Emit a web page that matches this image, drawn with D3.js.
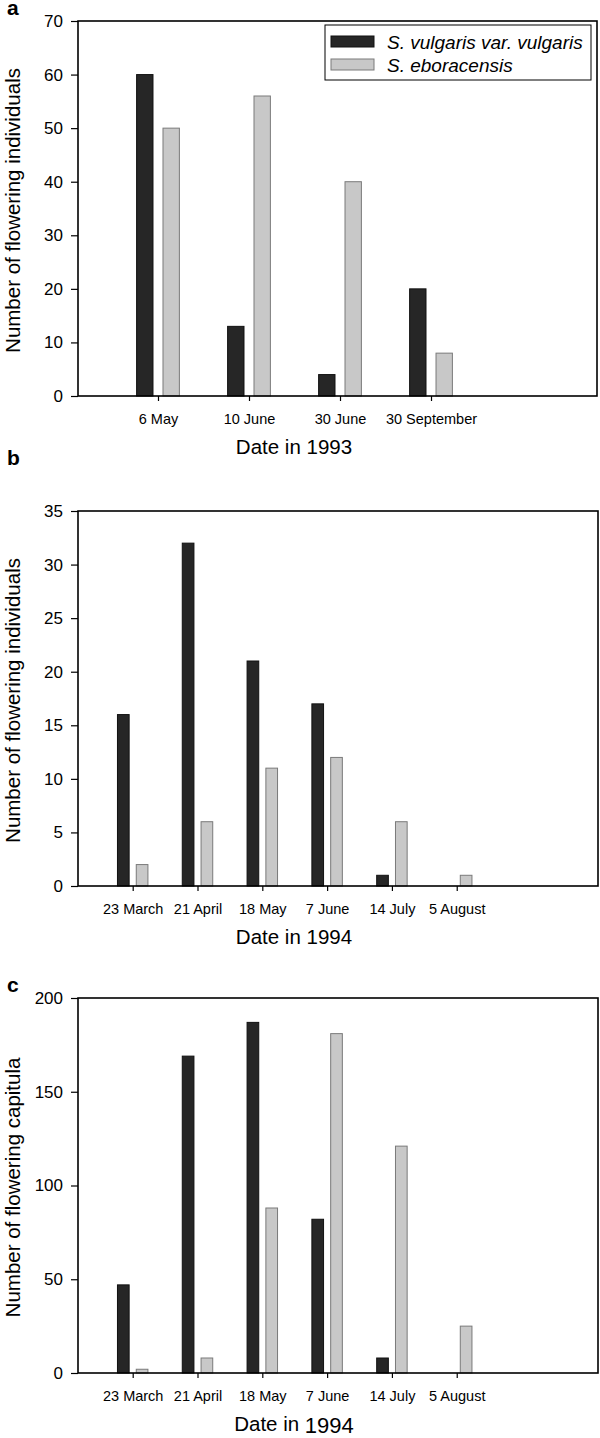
<!DOCTYPE html>
<html><head><meta charset="utf-8">
<script src="https://cdn.jsdelivr.net/npm/d3@7"></script>
<style>body{margin:0;background:#fff}svg{display:block}text{font-family:Arial,"Liberation Sans",sans-serif}</style>
</head><body>
<svg id="chart" width="600" height="1438"></svg>
<script>
const seriesNames = ["S. vulgaris var. vulgaris", "S. eboracensis"];
const datesA = ["6 May", "10 June", "30 June", "30 September"];
const vulgarisA = [60, 13, 4, 20];
const eboracensisA = [50, 56, 40, 8];
const yTicksA = [0, 10, 20, 30, 40, 50, 60, 70];

const datesB = ["23 March", "21 April", "18 May", "7 June", "14 July", "5 August"];
const vulgarisB = [16, 32, 21, 17, 1, 0];
const eboracensisB = [2, 6, 11, 12, 6, 1];
const yTicksB = [0, 5, 10, 15, 20, 25, 30, 35];

const datesC = datesB;
const vulgarisC = [47, 169, 187, 82, 8, 0];
const eboracensisC = [2, 8, 88, 181, 121, 25];
const yTicksC = [0, 50, 100, 150, 200];

const svg = d3.select("#chart");
const colors = ["#262626", "#c8c8c8"];
const strokes = ["#111", "#7a7a7a"];

const panels = [
  {letter:"a", letterY:15, top:21, bottom:396, left:78, right:597, xdom:[0.121,5.824],
   dates:datesA, s:[vulgarisA, eboracensisA], yt:yTicksA, ymax:70,
   ylab:"Number of flowering individuals", xlab:"Date in 1993", legend:true},
  {letter:"b", letterY:465, top:511, bottom:886, left:78, right:598, xdom:[0.156,8.18],
   dates:datesB, s:[vulgarisB, eboracensisB], yt:yTicksB, ymax:35,
   ylab:"Number of flowering individuals", xlab:"Date in 1994"},
  {letter:"c", letterY:992, top:998, bottom:1373, left:78, right:598, xdom:[0.156,8.18],
   dates:datesC, s:[vulgarisC, eboracensisC], yt:yTicksC, ymax:200,
   ylab:"Number of flowering capitula", xlab:"Date in ", xlab2:"1994"}
];

panels.forEach(p => {
  const g = svg.append("g");
  const x = d3.scaleLinear().domain(p.xdom).range([p.left, p.right]);
  const y = d3.scaleLinear().domain([0, p.ymax]).range([p.bottom, p.top]);
  const bw = 0.18, off = 0.145;

  p.s.forEach((vals, si) => {
    g.selectAll(null).data(vals).join("rect")
      .filter(d => d > 0)
      .attr("x", (d, i) => x(i + 1 + (si ? off : -off) - bw / 2))
      .attr("width", x(bw) - x(0))
      .attr("y", d => y(d))
      .attr("height", d => y(0) - y(d))
      .attr("fill", colors[si])
      .attr("stroke", strokes[si])
      .attr("stroke-width", 1);
  });

  const ya = g.append("g").attr("transform", `translate(${p.left},0)`)
    .call(d3.axisLeft(y).tickValues(p.yt).tickSize(7).tickPadding(8).tickFormat(d3.format("d")));
  ya.select(".domain").remove();
  ya.selectAll("line").attr("stroke", "#000").attr("stroke-width", 1.2);
  ya.selectAll("text").attr("font-size", 17).attr("fill", "#000");

  const xa = g.append("g").attr("transform", `translate(0,${p.bottom})`)
    .call(d3.axisBottom(x).tickValues(d3.range(1, p.dates.length + 1)).tickSize(5).tickPadding(0)
      .tickFormat((d, i) => p.dates[i]));
  xa.select(".domain").remove();
  xa.selectAll("line").attr("stroke", "#000").attr("stroke-width", 1.2);
  xa.selectAll("text").attr("font-size", 14.5).attr("fill", "#000").attr("dy", null).attr("y", 28);

  g.append("rect").attr("x", p.left).attr("y", p.top)
    .attr("width", p.right - p.left).attr("height", p.bottom - p.top)
    .attr("fill", "none").attr("stroke", "#000").attr("stroke-width", 1.6);

  g.append("text").attr("x", 7).attr("y", p.letterY).attr("font-size", 21)
    .attr("font-weight", "bold").text(p.letter);

  g.append("text").attr("transform", `translate(20,${(p.top + p.bottom) / 2 + 2}) rotate(-90)`)
    .attr("text-anchor", "middle").attr("font-size", 20.5).text(p.ylab);

  const xl = g.append("text").attr("x", 294).attr("y", p.bottom + 58)
    .attr("text-anchor", "middle").attr("font-size", 20.5).text(p.xlab);
  if (p.xlab2) xl.append("tspan").attr("font-size", 22).attr("dy", 2).text(p.xlab2);

  if (p.legend) {
    const lg = g.append("g");
    lg.append("rect").attr("x", 325).attr("y", 25).attr("width", 266).attr("height", 55)
      .attr("fill", "#fff").attr("stroke", "#000").attr("stroke-width", 1);
    seriesNames.forEach((n, i) => {
      lg.append("rect").attr("x", 331).attr("y", 36 + i * 23).attr("width", 43).attr("height", 11)
        .attr("fill", colors[i]).attr("stroke", strokes[i]).attr("stroke-width", 1);
      lg.append("text").attr("x", 387).attr("y", 49 + i * 23).attr("font-size", 19)
        .attr("font-style", "italic").text(n);
    });
  }
});
</script>
</body></html>
